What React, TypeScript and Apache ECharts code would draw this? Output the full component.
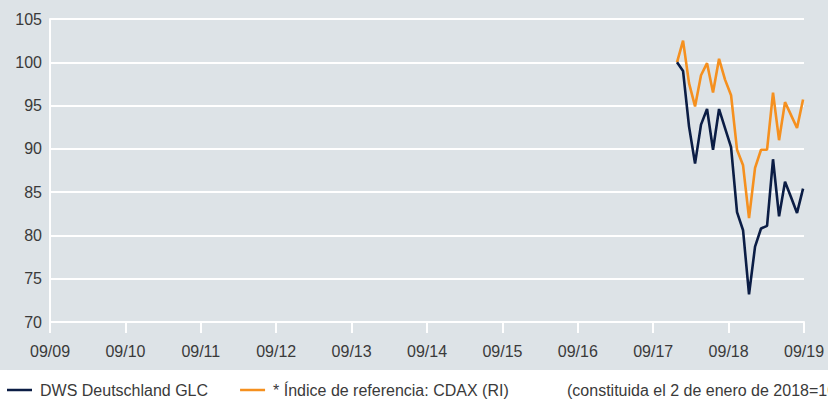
import React, { useEffect, useRef } from "react";
import * as echarts from "echarts";

// x positions: months elapsed since September 2009 (09/09)
const monthsSinceSep2009 = [
  99.79, 100.75, 101.7, 102.66, 103.61, 104.57, 105.52, 106.48, 107.43, 108.39, 109.34,
  110.3, 111.25, 112.21, 113.16, 114.12, 115.07, 116.03, 116.98, 117.94, 118.89, 119.85,
];
const fundValues = [
  100.0, 99.0, 92.6, 88.3, 92.8, 94.6, 89.9, 94.6, 92.4, 90.2, 82.7,
  80.6, 73.2, 78.7, 80.8, 81.1, 88.8, 82.2, 86.2, 84.4, 82.6, 85.4,
];
const benchmarkValues = [
  100.0, 102.5, 97.6, 94.9, 98.5, 99.9, 96.5, 100.4, 98.0, 96.2, 89.9,
  88.1, 82.0, 87.8, 89.9, 89.9, 96.5, 91.0, 95.4, 93.9, 92.4, 95.7,
];
const xTickLabels = ["09/09", "09/10", "09/11", "09/12", "09/13", "09/14", "09/15", "09/16", "09/17", "09/18", "09/19"];
const seriesNames = ["DWS Deutschland GLC", "* Índice de referencia: CDAX (RI)"];
const footnote = "(constituida el 2 de enero de 2018=100)";

const FONT = "'Liberation Sans', Arial, sans-serif";
const NAVY = "#0b1d45";
const ORANGE = "#f5901f";
const TEXT = "#3a3a3a";

export default function App() {
  const ref = useRef<HTMLDivElement>(null);
  useEffect(() => {
    document.body.style.margin = "0";
    const chart = echarts.init(ref.current!, null, { renderer: "svg" });
    const pair = (vals: number[]) => monthsSinceSep2009.map((x, i) => [x, vals[i]]);
    chart.setOption({
      animation: false,
      backgroundColor: "transparent",
      textStyle: { fontFamily: FONT },
      grid: { left: 50, right: 24, top: 19, bottom: 78, containLabel: false },
      legend: {
        left: 7,
        top: 382,
        padding: 0,
        icon: "rect",
        itemWidth: 25,
        itemHeight: 2.5,
        itemGap: 32,
        textStyle: { fontFamily: FONT, fontSize: 16, lineHeight: 16, color: TEXT, padding: [0, 0, 0, 3] },
        data: seriesNames,
      },
      graphic: [
        {
          type: "text",
          x: 567,
          y: 390,
          style: {
            text: footnote,
            fontFamily: FONT,
            fontSize: 16,
            fill: TEXT,
            verticalAlign: "middle",
            align: "left",
          },
        },
      ],
      xAxis: {
        type: "value",
        min: 0,
        max: 120,
        interval: 12,
        axisLine: { show: true, lineStyle: { color: "#ffffff", width: 2 } },
        axisTick: { show: true, length: 11, lineStyle: { color: "#ffffff", width: 2 } },
        splitLine: { show: false },
        axisLabel: {
          margin: 21,
          fontFamily: FONT,
          fontSize: 16,
          color: TEXT,
          formatter: (v: number) => xTickLabels[Math.round(v / 12)] ?? "",
        },
      },
      yAxis: {
        type: "value",
        min: 70,
        max: 105,
        interval: 5,
        axisLine: { show: true, lineStyle: { color: "#ffffff", width: 2 } },
        axisTick: { show: false },
        splitLine: { show: true, lineStyle: { color: "#ffffff", width: 2 } },
        axisLabel: { margin: 8, fontFamily: FONT, fontSize: 16, color: TEXT },
      },
      series: [
        {
          name: seriesNames[0],
          type: "line",
          data: pair(fundValues),
          symbol: "none",
          z: 3,
          lineStyle: { color: NAVY, width: 2.6 },
          itemStyle: { color: NAVY },
        },
        {
          name: seriesNames[1],
          type: "line",
          data: pair(benchmarkValues),
          symbol: "none",
          z: 2,
          lineStyle: { color: ORANGE, width: 2.6 },
          itemStyle: { color: ORANGE },
        },
      ],
    });
    return () => chart.dispose();
  }, []);
  return (
    <div
      ref={ref}
      style={{
        width: 828,
        height: 400,
        background: "linear-gradient(to bottom, #dde3e7 0px, #dde3e7 370px, #ffffff 370px, #ffffff 400px)",
      }}
    />
  );
}
